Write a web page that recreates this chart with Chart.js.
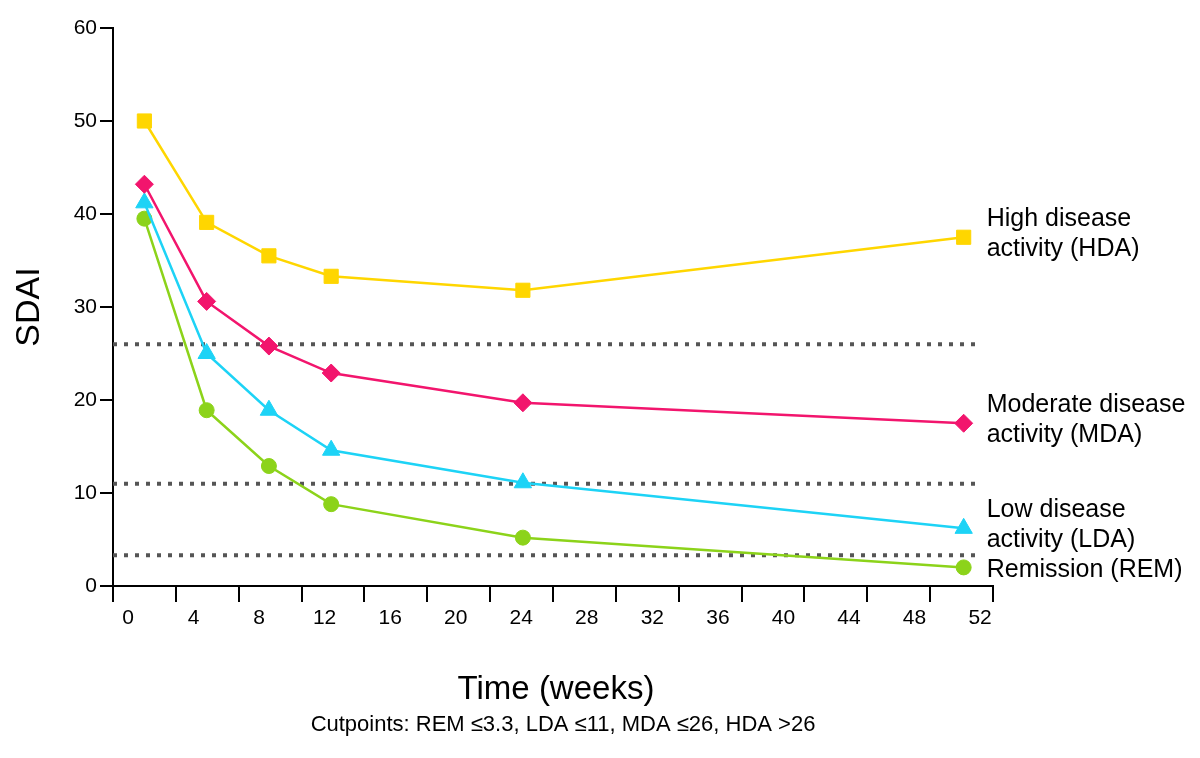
<!DOCTYPE html>
<html><head><meta charset="utf-8">
<script src="https://cdn.jsdelivr.net/npm/chart.js@4/dist/chart.umd.min.js"></script>
<style>html,body{margin:0;padding:0;background:#fff}#wrap{width:1200px;height:758px}</style>
</head><body><div id="wrap"><canvas id="c" width="1200" height="758"></canvas></div>
<script>
// ---- data ----
const weeks = [1, 4.8, 8.6, 12.4, 24.1, 51];
const hda = [50, 39.1, 35.5, 33.3, 31.8, 37.5];
const mda = [43.2, 30.6, 25.8, 22.9, 19.7, 17.5];
const lda = [41.2, 25.0, 18.9, 14.6, 11.1, 6.2];
const rem = [39.5, 18.9, 12.9, 8.8, 5.2, 2.0];
const cutpoints = [26, 11, 3.3];
const cutLineEnd = 51.9;
const xTickLabels = [0, 4, 8, 12, 16, 20, 24, 28, 32, 36, 40, 44, 48, 52];
const yTickLabels = [0, 10, 20, 30, 40, 50, 60];
const seriesNames = [
  ['High disease', 'activity (HDA)'],
  ['Moderate disease', 'activity (MDA)'],
  ['Low disease', 'activity (LDA)'],
  ['Remission (REM)']
];
const yTitle = 'SDAI';
const xTitle = 'Time (weeks)';
const footnote = 'Cutpoints: REM \u22643.3, LDA \u226411, MDA \u226426, HDA >26';

const X_MIN = -0.915, X_MAX = 52.79;
const FONT = "'Liberation Sans', Arial, sans-serif";
const toPts = ys => weeks.map((w, i) => ({x: w, y: ys[i]}));

const series = [
  {vals: hda, color: '#FFD600', style: 'rect', r: 10},
  {vals: mda, color: '#F2156D', style: 'rectRot', r: 9},
  {vals: lda, color: '#1DD3F6', style: 'triangle', r: 10},
  {vals: rem, color: '#8CD31A', style: 'circle', r: 7.5}
];

const datasets = [];
cutpoints.forEach(c => datasets.push({
  data: [{x: X_MIN, y: c}, {x: cutLineEnd, y: c}],
  borderColor: '#555555', borderWidth: 4, borderDash: [4, 7], borderCapStyle: 'butt',
  pointRadius: 0, order: 10, fill: false
}));
series.forEach((s, i) => datasets.push({
  label: seriesNames[i].join(' '),
  data: toPts(s.vals),
  borderColor: s.color, backgroundColor: s.color,
  borderWidth: 2.5, pointStyle: s.style, pointRadius: s.r,
  pointBackgroundColor: s.color, pointBorderColor: s.color, pointBorderWidth: 1,
  tension: 0, order: 1, fill: false, seriesIndex: i
}));

const extras = {
  id: 'extras',
  afterDraw(chart) {
    const {ctx, chartArea: a} = chart;
    ctx.save();
    // x-axis tick marks (15 evenly spaced along the axis)
    ctx.strokeStyle = '#000'; ctx.lineWidth = 2;
    for (let k = 0; k <= 14; k++) {
      const px = Math.round(a.left + k * (a.right - a.left) / 14);
      ctx.beginPath(); ctx.moveTo(px, a.bottom); ctx.lineTo(px, a.bottom + 16); ctx.stroke();
    }
    ctx.fillStyle = '#000';
    // y title
    ctx.save();
    ctx.translate(30, (a.top + a.bottom) / 2);
    ctx.rotate(-Math.PI / 2);
    ctx.font = '34px ' + FONT; ctx.textAlign = 'center'; ctx.textBaseline = 'middle';
    ctx.fillText(yTitle, 0, 0);
    ctx.restore();
    // x title and footnote
    ctx.textAlign = 'center'; ctx.textBaseline = 'middle';
    ctx.font = '33px ' + FONT; ctx.fillText(xTitle, 556, 690);
    ctx.font = '22px ' + FONT; ctx.fillText(footnote, 563, 725);
    // series labels at the right end
    ctx.textAlign = 'left'; ctx.font = '25px ' + FONT;
    chart.data.datasets.forEach((ds, di) => {
      if (ds.seriesIndex === undefined) return;
      const meta = chart.getDatasetMeta(di);
      const last = meta.data[meta.data.length - 1];
      const lines = seriesNames[ds.seriesIndex];
      const lh = 30;
      const y0 = last.y - (lines.length - 1) * lh / 2 + (ds.seriesIndex === 3 ? 3 : -3);
      lines.forEach((t, li) => ctx.fillText(t, last.x + 23, y0 + li * lh));
    });
    ctx.restore();
  }
};

new Chart(document.getElementById('c'), {
  type: 'line',
  data: {datasets},
  options: {
    responsive: false, animation: false,
    layout: {padding: {top: 28, right: 207, left: 0, bottom: 0}},
    plugins: {legend: {display: false}, tooltip: {enabled: false}},
    scales: {
      x: {
        type: 'linear', min: X_MIN, max: X_MAX,
        afterBuildTicks: s => { s.ticks = xTickLabels.map(v => ({value: v})); },
        afterFit: s => { s.height = 172; },
        grid: {display: false},
        border: {color: '#000', width: 2},
        ticks: {color: '#000', font: {family: FONT, size: 21}, padding: 12, maxRotation: 0, autoSkip: false}
      },
      y: {
        type: 'linear', min: 0, max: 60,
        afterBuildTicks: s => { s.ticks = yTickLabels.map(v => ({value: v})); },
        afterFit: s => { s.width = 113; },
        grid: {drawOnChartArea: false, drawTicks: true, tickLength: 13, color: '#000', lineWidth: 2},
        border: {color: '#000', width: 2},
        ticks: {color: '#000', font: {family: FONT, size: 21}, padding: 3}
      }
    }
  },
  plugins: [extras]
});
</script>
</body></html>
